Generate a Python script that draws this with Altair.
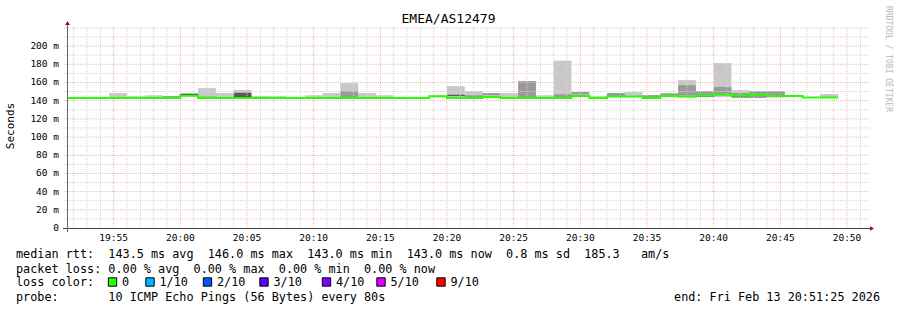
import altair as alt
import pandas as pd

# ---------------- data ----------------
DAY = "2026-02-13T"
step_start = ["19:51:30", "19:52:00", "19:53:20", "19:54:40", "19:56:00", "19:57:20", "19:58:40",
              "20:00:00", "20:01:20", "20:02:40", "20:04:00", "20:05:20", "20:06:40", "20:08:00",
              "20:09:20", "20:10:40", "20:12:00", "20:13:20", "20:14:40", "20:16:00", "20:17:20",
              "20:18:40", "20:20:00", "20:21:20", "20:22:40", "20:24:00", "20:25:20", "20:26:40",
              "20:28:00", "20:29:20", "20:30:40", "20:32:00", "20:33:20", "20:34:40", "20:36:00",
              "20:37:20", "20:38:40", "20:40:00", "20:41:20", "20:42:40", "20:44:00", "20:45:20",
              "20:46:40", "20:48:00"]
last_step_end = "20:49:20"

median_ms = [143, 143, 143, 143, 143, 143, 143, 145.5, 143, 143, 143, 143, 143, 143,
             143, 143, 143, 143, 143, 143, 143, 144.8, 143, 143, 144, 143, 143, 143,
             143, 145, 143, 144.5, 144.5, 143, 145, 144.5, 145.5, 146.5, 145.5, 146.5, 145,
             145, 143.5, 143.5]
min_ms = [143, 143, 143, 143, 143, 143, 143, 145, 143, 143, 143, 143, 143, 143,
          143, 143, 143, 143, 143, 143, 143, 144, 143, 143, 143.5, 143, 143, 143,
          143, 144, 143, 144, 144, 143, 144, 143.5, 144, 144, 143.5, 143, 143.5,
          145, 143.5, 143.5]
max_ms = [143, 143, 143, 148.4, 145, 146, 145, 148.4, 153.8, 148.4, 151.6, 145, 145, 143,
          146, 148.4, 159.3, 148.4, 146, 143, 143, 146, 156, 150.5, 148.4, 148.4, 161.5, 146,
          184, 149.5, 145, 148.4, 149.5, 146, 148, 162.6, 150.5, 181.3, 151.6, 150.5, 150.5,
          145, 143.5, 147.3]
N = None
mid_lo = [N, N, N, N, N, N, 143, N, 143, N, N, N, N, N, N, N, 143, N, N, N, N, N, N, 143,
          146, N, 143, N, 143, 147, N, 145, N, 143, 145, 146, 146, 147, 146, 143, 145, N, N, N]
mid_hi = [N, N, N, N, N, N, 145, N, 144.5, N, N, N, N, N, N, N, 150.5, N, N, N, N, N, N, 146,
          148.4, N, 161.5, N, 147, 149.5, N, 148.4, N, 146, 148, 157, 150.5, 155, 148.4, 150.5, 150.5,
          N, N, N]
dark_lo = [N, N, N, N, N, N, N, 145.5, N, N, 143, N, N, N, N, N, N, N, N, N, N, N, 145, N,
           N, N, N, N, N, N, N, N, N, N, N, N, 144, N, 143.5, N, N, N, N, N]
dark_hi = [N, N, N, N, N, N, N, 147.5, N, N, 148.7, N, N, N, N, N, N, N, N, N, N, N, 146.5, N,
           N, N, N, N, N, N, N, N, N, N, N, N, 146, N, 145.5, N, N, N, N, N]

x_label_times = ["19:55", "20:00", "20:05", "20:10", "20:15", "20:20", "20:25",
                 "20:30", "20:35", "20:40", "20:45", "20:50"]
y_label_values = [0, 20, 40, 60, 80, 100, 120, 140, 160, 180, 200]
y_label_texts = ["0", "20 m", "40 m", "60 m", "80 m", "100 m", "120 m", "140 m",
                 "160 m", "180 m", "200 m"]

title_text = "EMEA/AS12479"
y_title = "Seconds"
watermark = "RRDTOOL / TOBI OETIKER"
legend_rows = [
    "median rtt:  143.5 ms avg  146.0 ms max  143.0 ms min  143.0 ms now  0.8 ms sd  185.3   am/s",
    "packet loss: 0.00 % avg  0.00 % max  0.00 % min  0.00 % now",
    "loss color:",
    "probe:       10 ICMP Echo Pings (56 Bytes) every 80s",
]
end_text = "end: Fri Feb 13 20:51:25 2026"
loss_labels = ["0", "1/10", "2/10", "3/10", "4/10", "5/10", "9/10"]
loss_colors = ["#26ff00", "#00b8ff", "#0059ff", "#5e00ff", "#7e00ff", "#dd00ff", "#ff0000"]

# ---------------- layout (pixels) ----------------
W, H = 800, 201
PAD_L, PAD_T = 67, 27
FONT = "DejaVu Sans Mono"
LEG_SIZE = 11.8
legend_row_y = [254, 268.5, 282, 296.5]           # absolute centres
loss_square_x = [112.5, 150, 207.5, 264, 326.5, 381, 441]  # absolute centres


def nb(s):
    return s.replace(" ", "\u00a0")


def ts(t):
    return DAY + t + ":00Z" if len(t) == 5 else DAY + t + "Z"


steps = pd.DataFrame({
    "t0": [ts(t) for t in step_start],
    "t1": [ts(t) for t in step_start[1:] + [last_step_end]],
    "median": median_ms, "lo": min_ms, "hi": max_ms,
    "mlo": mid_lo, "mhi": mid_hi, "dlo": dark_lo, "dhi": dark_hi,
})
mid_df = steps.dropna(subset=["mlo"])
dark_df = steps.dropna(subset=["dlo"])
line_df = pd.DataFrame({
    "t": [ts(t) for t in step_start] + [ts(last_step_end)],
    "median": median_ms + [median_ms[-1]],
})

minutes = pd.date_range("2026-02-13 19:52", "2026-02-13 20:51", freq="1min")
minor_v = pd.DataFrame({"t": [m.strftime("%Y-%m-%dT%H:%M:%SZ") for m in minutes if m.minute % 5]})
major_v = pd.DataFrame({"t": [ts(t) for t in x_label_times], "lab": x_label_times})
minor_h = pd.DataFrame({"v": [v for v in range(10, 221, 10) if v % 20 or v > 200]})
major_h = pd.DataFrame({"v": [v for v in y_label_values if v > 0]})
ylab_df = pd.DataFrame({"v": y_label_values, "lab": [nb(s) for s in y_label_texts]})


def dt(h, m, s=0):
    return alt.DateTime(year=2026, month=2, date=13, hours=h, minutes=m, seconds=s, utc=True)


xs = alt.Scale(type="utc", domain=[dt(19, 51, 30), dt(20, 51, 30)])
ys = alt.Scale(domain=[0, 221], nice=False)
X = lambda f: alt.X(f, scale=xs, axis=None)
Y = lambda f: alt.Y(f, scale=ys, axis=None)

outer = alt.Chart(steps).mark_rect(color="#c8c8c8").encode(
    x=X("t0:T"), x2="t1:T", y=Y("lo:Q"), y2="hi:Q")
mid = alt.Chart(mid_df).mark_rect(color="#9a9a9a").encode(
    x=X("t0:T"), x2="t1:T", y=Y("mlo:Q"), y2="mhi:Q")
dark = alt.Chart(dark_df).mark_rect(color="#5a5a5a").encode(
    x=X("t0:T"), x2="t1:T", y=Y("dlo:Q"), y2="dhi:Q")

GRID_MINOR = "#d4d4d4"
GRID_MAJOR = "#f5b4b4"
g_minor_v = alt.Chart(minor_v).mark_rule(color=GRID_MINOR, strokeDash=[1, 1], strokeWidth=1).encode(
    x=X("t:T"))
g_major_v = alt.Chart(major_v).mark_rule(color=GRID_MAJOR, strokeDash=[1, 1], strokeWidth=1).encode(
    x=X("t:T"))
g_minor_h = alt.Chart(minor_h).mark_rule(color=GRID_MINOR, strokeDash=[1, 1], strokeWidth=1).encode(
    y=Y("v:Q"), x=alt.value(-3), x2=alt.value(W + 2))
g_major_h = alt.Chart(major_h).mark_rule(color=GRID_MAJOR, strokeDash=[1, 1], strokeWidth=1).encode(
    y=Y("v:Q"), x=alt.value(-3), x2=alt.value(W + 2))

med = alt.Chart(line_df).mark_line(color="#26ff00", strokeWidth=2, interpolate="step-after").encode(
    x=X("t:T"), y=Y("median:Q"))

# axis lines, arrows and labels
one = pd.DataFrame({"a": [0]})
x_line = alt.Chart(one).mark_rule(color="#444444", strokeWidth=1).encode(
    x=alt.value(-4), x2=alt.value(W + 4), y=alt.value(H + 0.5))
y_line = alt.Chart(one).mark_rule(color="#666666", strokeWidth=1).encode(
    x=alt.value(0.5), y=alt.value(H + 4), y2=alt.value(-3))
up_arrow = alt.Chart(one).mark_point(shape="triangle-up", filled=True, color="#801818", size=22,
                                     opacity=1).encode(x=alt.value(0.5), y=alt.value(-4))
right_arrow = alt.Chart(one).mark_point(shape="triangle-right", filled=True, color="#801818", size=22,
                                        opacity=1).encode(x=alt.value(W + 5), y=alt.value(H + 0.5))
x_labels = alt.Chart(major_v).mark_text(font=FONT, fontSize=9.5, color="#000000", align="center",
                                        baseline="middle").encode(
    x=X("t:T"), y=alt.value(238 - PAD_T), text="lab:N")
y_labels = alt.Chart(ylab_df).mark_text(font=FONT, fontSize=9.5, color="#000000", align="right",
                                        baseline="middle").encode(
    y=Y("v:Q"), x=alt.value(59 - PAD_L), text="lab:N")

# texts
title = alt.Chart(one).mark_text(text=title_text, font=FONT, fontSize=13, color="#000000",
                                 align="center", baseline="middle").encode(
    x=alt.value(448.5 - PAD_L), y=alt.value(19 - PAD_T))
ytitle = alt.Chart(one).mark_text(text=y_title, font=FONT, fontSize=11, color="#000000", angle=270,
                                  align="center", baseline="middle").encode(
    x=alt.value(11 - PAD_L), y=alt.value(126 - PAD_T))
wm = alt.Chart(one).mark_text(text=nb(watermark), font=FONT, fontSize=8, color="#b8b8b8", angle=90,
                              align="center", baseline="middle").encode(
    x=alt.value(888 - PAD_L), y=alt.value(59 - PAD_T))

rows_df = pd.DataFrame({"txt": [nb(s) for s in legend_rows], "yy": [v - PAD_T for v in legend_row_y]})
rows = alt.Chart(rows_df).mark_text(font=FONT, fontSize=LEG_SIZE, color="#000000", align="left",
                                    baseline="middle").encode(
    x=alt.value(16 - PAD_L), y=alt.Y("yy:Q", scale=None), text="txt:N")
end = alt.Chart(one).mark_text(text=nb(end_text), font=FONT, fontSize=LEG_SIZE, color="#000000",
                               align="right", baseline="middle").encode(
    x=alt.value(880 - PAD_L), y=alt.value(legend_row_y[3] - PAD_T))

loss_df = pd.DataFrame({
    "label": loss_labels, "col": loss_colors,
    "sx": [v - PAD_L for v in loss_square_x],
    "tx": [v - PAD_L + 9.5 for v in loss_square_x],
})
sq = alt.Chart(loss_df).mark_square(size=70, opacity=1, filled=True, stroke="#000000",
                                    strokeWidth=1).encode(
    x=alt.X("sx:Q", scale=None), y=alt.value(legend_row_y[2] - PAD_T),
    fill=alt.Fill("col:N", scale=None))
sq_txt = alt.Chart(loss_df).mark_text(font=FONT, fontSize=LEG_SIZE, color="#000000", align="left",
                                      baseline="middle").encode(
    x=alt.X("tx:Q", scale=None), y=alt.value(legend_row_y[2] - PAD_T), text="label:N")

chart = alt.layer(
    outer, mid, dark, g_minor_v, g_minor_h, g_major_v, g_major_h, med,
    x_line, y_line, up_arrow, right_arrow, x_labels, y_labels,
    title, ytitle, wm, rows, end, sq, sq_txt,
).properties(
    width=W, height=H, autosize="none",
    padding={"left": PAD_L, "top": PAD_T, "right": 897 - PAD_L - W, "bottom": 310 - PAD_T - H},
    background="#ffffff",
).configure_view(stroke=None)

chart.save("out.html", embed_options={"renderer": "svg", "actions": False})
